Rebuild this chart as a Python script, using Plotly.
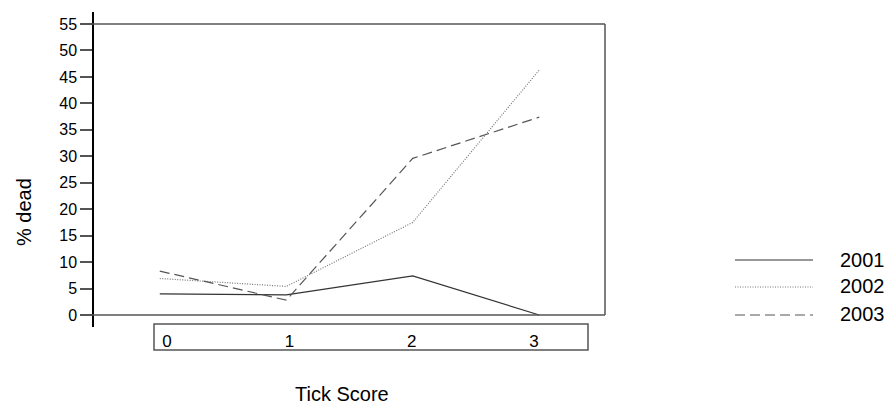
import plotly.graph_objects as go

tick_score = [0, 1, 2, 3]
series_names = ["2001", "2002", "2003"]
dead_2001 = [4.0, 3.8, 7.4, 0.0]
dead_2002 = [6.9, 5.4, 17.5, 46.3]
dead_2003 = [8.3, 2.8, 29.6, 37.4]
y_ticks = [0, 5, 10, 15, 20, 25, 30, 35, 40, 45, 50, 55]

series = [dead_2001, dead_2002, dead_2003]
styles = [
    dict(color="#333333", width=1.2, dash="solid"),
    dict(color="#777777", width=1.2, dash="1px,1.5px"),
    dict(color="#555555", width=1.2, dash="10px,5px"),
]

FONT = "Liberation Sans, Arial, sans-serif"

fig = go.Figure()
for name, vals, st in zip(series_names, series, styles):
    fig.add_trace(go.Scatter(x=tick_score, y=vals, mode="lines", name=name,
                             line=st, showlegend=False))

W, H = 888, 407
L, R, T, B = 94, 605, 12, 327


def px(x):
    return (x - L) / (R - L)


def py(y):
    return (B - y) / (B - T)


shapes = []
for yv in (0, 55):
    shapes.append(dict(type="line", xref="paper", yref="y", x0=px(82), x1=px(605),
                       y0=yv, y1=yv, line=dict(color="#555555", width=1.5)))
shapes.append(dict(type="line", xref="paper", yref="y", x0=1, x1=1, y0=0, y1=55,
                   line=dict(color="#555555", width=1.5)))
shapes.append(dict(type="rect", xref="paper", yref="paper", x0=px(154), x1=px(588),
                   y0=py(350), y1=py(324), line=dict(color="#555555", width=1.5)))

annotations = []
leg_y = [260, 287, 315]
txt_y = [260, 286, 314]
for name, st, yy, ty in zip(series_names, styles, leg_y, txt_y):
    shapes.append(dict(type="line", xref="paper", yref="paper", x0=px(735), x1=px(813),
                       y0=py(yy), y1=py(yy), line=st))
    annotations.append(dict(text=name, xref="paper", yref="paper", x=px(838), y=py(ty),
                            xanchor="left", yanchor="middle", showarrow=False,
                            font=dict(family=FONT, size=20, color="#000000")))

annotations.append(dict(text="% dead", xref="paper", yref="paper", x=px(24), y=py(212),
                        xanchor="center", yanchor="middle", textangle=-90, showarrow=False,
                        font=dict(family=FONT, size=20, color="#000000")))
annotations.append(dict(text="Tick Score", xref="paper", yref="paper", x=px(342), y=py(394),
                        xanchor="center", yanchor="middle", showarrow=False,
                        font=dict(family=FONT, size=20, color="#000000")))

# invisible trace so the label axis is drawn
fig.add_trace(go.Scatter(x=tick_score, y=[None] * len(tick_score), xaxis="x2",
                         mode="lines", showlegend=False, hoverinfo="skip"))

fig.update_layout(
    width=W, height=H,
    margin=dict(l=L, r=W - R, t=T, b=H - B),
    paper_bgcolor="white", plot_bgcolor="white",
    font=dict(family=FONT, size=16, color="#000000"),
    shapes=shapes, annotations=annotations,
    xaxis=dict(range=[-0.52, 3.52], showticklabels=False,
               showgrid=False, zeroline=False, showline=False, ticks="", fixedrange=True),
    xaxis2=dict(overlaying="x", side="bottom", range=[-0.597, 3.58], tickvals=tick_score,
                ticktext=[str(v) for v in tick_score], showgrid=False, zeroline=False,
                showline=False, ticks="", ticklabelstandoff=2, tickfont=dict(size=17),
                fixedrange=True),
    yaxis=dict(range=[-2.27, 57.27], tickvals=y_ticks, showgrid=False, zeroline=False,
               showline=True, linecolor="#000000", linewidth=1.5,
               ticks="outside", ticklen=12, tickcolor="#555555", tickwidth=1.5,
               tickfont=dict(size=16), fixedrange=True),
)

fig.write_html("out.html", config={"displayModeBar": False},
               post_script="document.body.style.margin='0';")
